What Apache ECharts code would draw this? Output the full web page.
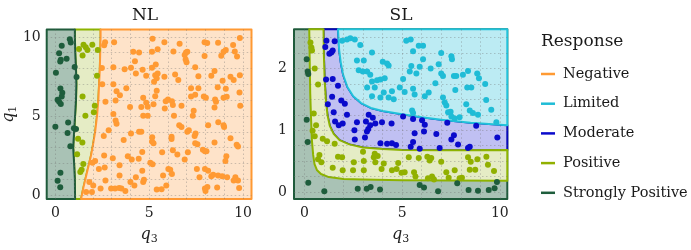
<!DOCTYPE html>
<html><head><meta charset="utf-8">
<script src="https://cdn.jsdelivr.net/npm/echarts@6/dist/echarts.min.js"></script>
<style>html,body{margin:0;padding:0;background:#fff}#c{width:691px;height:250px}</style>
</head><body><div id="c"></div>
<script>
// ---------- categories ----------
const classes = ['Negative', 'Limited', 'Moderate', 'Positive', 'Strongly Positive'];
const panelTitles = ['NL', 'SL'];
const legendTitle = 'Response';
// ---------- tick labels ----------
const xTickLabels = [0, 5, 10];
const nlYTickLabels = [0, 5, 10];
const slYTickLabels = [0, 1, 2];
// ---------- axis extents ----------
const nlXRange = [-0.46, 10.45];
const nlYRange = [-0.25, 10.47];
const slXRange = [-0.53, 10.38];
const slYRange = [-0.115, 2.635];

// ---------- NL points [q3, q1] ----------
const nlStrong = [[0.77,9.85],[0.82,9.65],[0.34,9.45],[0.20,8.97],[0.29,8.56],[0.26,8.44],[0.60,8.62],[0.03,7.74],[1.03,8.10],[1.13,7.47],[0.27,6.74],[0.37,6.47],[0.34,6.23],[0.12,6.02],[0.20,5.90],[0.29,5.76],[0.00,4.32],[0.68,4.59],[0.65,3.92],[0.99,4.22],[1.10,4.18],[0.80,3.09],[0.27,1.41],[0.12,0.90],[0.26,0.49]];
const nlPositive = [[1.26,9.24],[1.50,9.50],[1.62,9.34],[1.71,9.18],[1.97,9.50],[2.26,9.18],[1.45,8.83],[2.22,7.54],[1.45,6.23],[2.10,5.64],[2.05,5.24],[1.60,5.02],[1.21,3.56],[1.44,3.32],[1.16,2.58],[1.49,1.97],[1.40,1.60],[1.33,1.46]];
const nlNegative = [
 [2.60,9.47],[2.65,9.67],[3.13,9.67],[4.15,9.06],[4.46,9.02],[5.18,9.88],[5.15,9.06],[5.45,9.22],[5.81,9.67],[6.29,9.08],[6.62,9.57],[6.96,9.02],[6.89,8.85],[7.03,9.06],[7.95,9.67],[8.09,9.61],[8.67,9.63],[9.47,9.49],[9.83,9.94],[7.95,8.79],[8.84,8.81],[9.08,9.18],[8.96,9.06],[9.56,9.08],[9.68,8.77],
 [2.48,8.03],[3.09,8.09],[3.69,7.95],[4.03,8.05],[4.24,8.46],[4.65,7.93],[4.84,7.54],[5.15,8.05],[5.35,8.26],[5.32,7.58],[5.40,7.38],[5.45,7.68],[5.26,7.17],[5.81,7.48],[6.38,7.62],[6.55,7.27],[6.99,8.40],[6.94,8.57],[7.45,8.09],[7.62,7.52],[8.31,7.54],[8.48,7.85],[8.91,7.23],[9.33,7.48],[9.50,7.27],[9.83,7.58],[4.29,7.68],[2.50,7.01],
 [3.09,7.01],[3.26,6.56],[3.78,6.76],[3.44,6.31],[2.67,5.90],[3.21,5.98],[3.98,5.57],[4.58,5.57],[4.68,6.15],[4.84,5.84],[4.92,5.59],[5.32,6.25],[5.40,6.60],[5.23,5.74],[5.88,5.94],[6.00,6.05],[6.21,5.94],[6.26,5.70],[6.32,5.02],[5.83,5.47],[6.72,5.64],[7.23,6.23],[7.45,6.35],[7.23,6.76],[7.62,6.76],[7.37,5.33],[7.32,5.02],[7.91,6.23],[8.02,6.15],[8.56,5.90],[8.48,5.53],[8.51,6.05],[9.08,6.72],[9.13,6.21],[9.81,6.48],[9.85,5.64],[8.96,6.15],[8.65,6.82],[3.09,5.12],[4.68,5.02],[4.92,5.02],
 [2.58,3.73],[2.84,4.10],[3.21,4.71],[3.26,4.51],[3.64,3.48],[4.03,3.89],[4.46,4.00],[4.58,4.00],[5.16,3.65],[5.15,3.38],[5.23,3.28],[6.19,3.69],[6.19,3.55],[6.26,2.83],[6.60,4.41],[6.72,4.30],[7.03,4.00],[7.11,4.10],[7.42,3.73],[7.47,3.89],[7.57,3.22],[7.86,2.87],[7.97,2.77],[8.05,2.77],[8.14,4.41],[8.68,4.61],[8.99,4.30],[8.96,4.41],[9.33,3.59],[9.66,3.18],[9.73,3.07],[7.45,3.28],[8.48,3.32],
 [1.98,2.05],[2.12,2.15],[2.32,1.64],[2.60,2.50],[2.63,1.74],[3.06,2.32],[3.42,1.89],[3.42,1.23],[3.86,2.46],[4.07,2.25],[4.44,2.30],[4.63,2.73],[4.63,1.54],[5.06,2.05],[5.18,1.95],[5.69,2.70],[5.74,1.23],[6.02,1.64],[6.12,1.60],[6.21,1.33],[6.50,2.56],[6.89,2.25],[7.06,2.70],[7.54,1.64],[7.68,1.13],[7.97,1.64],[8.14,1.54],[8.31,1.19],[8.41,1.29],[8.67,1.23],[8.89,1.19],[9.11,2.46],[9.06,2.15],[9.15,1.13],[9.59,1.13],[9.73,0.92],
 [1.95,0.20],[2.02,0.61],[1.64,0.20],[1.81,0.82],[2.41,0.41],[2.97,0.41],[3.18,0.41],[3.40,0.45],[3.52,0.41],[3.73,0.25],[4.00,0.82],[4.21,0.61],[4.68,0.82],[4.72,0.96],[5.40,0.35],[5.66,0.37],[5.91,0.61],[7.97,0.41],[8.00,0.25],[8.10,0.51],[8.62,0.47],[9.50,0.92],[9.79,0.45],[4.29,1.13],[2.67,0.92]
];

// ---------- SL points [q3, q1] ----------
const slStrong = [[0.12,2.15],[0.17,1.95],[0.20,1.91],[0.12,1.17],[0.17,0.81],[0.20,0.15],[1.02,0.01],[2.73,0.05],[3.19,0.05],[3.39,0.08],[3.87,0.04],[5.90,0.11],[6.12,0.07],[6.84,0.01],[7.82,0.14],[8.40,0.03],[8.88,0.02],[9.43,0.03],[9.73,0.06],[9.85,0.16]];
const slPositive = [[0.31,2.42],[0.36,2.34],[0.39,2.29],[0.53,2.00],[0.70,1.74],[0.48,1.27],[0.60,1.08],[0.42,0.99],[0.53,0.90],[0.94,0.86],[1.16,0.82],[1.55,0.78],[0.77,0.60],[0.70,0.53],[0.87,0.48],[1.45,0.39],[1.72,0.57],[1.93,0.56],[1.96,0.35],[2.53,0.48],[2.49,0.35],[3.04,0.50],[3.04,0.35],[3.00,0.65],[3.55,0.56],[3.60,0.62],[3.75,0.58],[4.06,0.46],[3.63,0.48],[4.48,0.35],[3.95,0.37],[4.80,0.47],[4.72,0.37],[4.97,0.31],
 [5.34,0.56],[5.85,0.55],[6.29,0.57],[6.41,0.51],[6.49,0.55],[7.00,0.49],[5.13,0.32],[5.61,0.32],[5.68,0.25],[6.32,0.22],[6.53,0.25],[6.63,0.20],[7.26,0.32],[7.38,0.23],[7.69,0.35],[7.94,0.22],[8.06,0.23],[8.37,0.56],[8.51,0.49],[8.85,0.53],[9.31,0.57],[9.39,0.44],[9.70,0.34],[8.46,0.36],[8.74,0.36]];
const slModerate = [[1.13,2.45],[1.55,2.44],[1.07,2.35],[1.38,2.26],[1.45,2.29],[1.28,2.24],[1.11,1.82],[1.45,1.83],[1.42,1.54],[2.07,1.43],[1.72,1.72],[1.20,1.42],[1.89,1.48],[1.50,1.29],[2.18,1.25],[1.76,1.08],[1.96,1.11],[2.56,1.00],[2.69,1.13],[3.15,1.14],[3.29,1.25],[3.37,1.08],[3.63,1.11],[3.97,1.13],[3.50,1.20],[3.20,0.98],[2.58,0.85],[3.89,0.79],[4.23,0.78],[4.48,0.79],[4.69,0.76],[3.27,1.02],[3.10,0.88],[4.46,1.11],[1.57,1.14],
 [5.05,1.22],[5.56,1.18],[6.02,1.16],[6.16,1.09],[6.12,0.98],[5.64,0.95],[5.56,0.81],[5.44,0.73],[5.90,0.70],[6.75,0.94],[6.92,0.71],[7.31,1.12],[7.52,0.85],[7.65,0.92],[7.86,0.77],[8.37,0.71],[8.46,0.73],[8.79,1.07],[9.87,0.88]];
const slLimited = [[1.93,2.45],[2.18,2.47],[2.35,2.49],[2.58,2.47],[2.86,2.38],[3.46,2.26],[2.69,2.13],[3.04,2.13],[2.78,1.97],[2.99,1.95],[3.21,1.95],[3.37,1.90],[3.46,1.79],[3.72,1.81],[3.89,1.82],[4.11,1.84],[4.01,2.11],[4.23,2.08],[4.31,2.05],[3.60,1.69],[3.21,1.69],[4.06,1.61],[4.48,1.63],[3.89,1.53],[3.46,1.55],[4.31,1.53],[4.57,1.50],
 [5.21,2.45],[5.44,2.47],[5.85,2.37],[6.07,2.37],[5.56,2.28],[7.00,2.25],[7.52,2.20],[7.55,2.15],[6.07,2.15],[5.47,2.04],[5.90,2.03],[5.39,1.95],[5.73,1.92],[6.46,2.00],[6.87,2.07],[7.00,1.92],[7.09,1.88],[7.65,1.88],[7.77,1.88],[8.11,1.90],[8.37,1.96],[8.84,1.92],[8.93,1.84],[9.25,1.75],[6.70,1.76],[5.05,1.83],[4.88,1.69],[5.13,1.62],[5.56,1.67],[5.64,1.58],[6.16,1.55],[6.36,1.61],[7.72,1.65],[8.33,1.69],[8.54,1.69],[7.09,1.53],[7.18,1.45],[7.26,1.40],[7.35,1.29],[7.48,1.30],[7.52,1.22],[7.69,1.19],[7.94,1.21],[8.28,1.42],[8.46,1.32],[8.62,1.28],[8.88,1.25],[9.30,1.49],[9.56,1.33],[9.82,1.13],[5.51,1.32],[5.56,1.28]];

// ---------- region boundaries ----------
// NL: boundaries given as q3 as a function of q1
const nlStrongEdgeY = [-0.25, 1, 2, 3, 4, 5, 6, 7, 8, 9, 10, 10.47];
const nlStrongEdgeX = [1.05, 1.04, 1.00, 0.95, 1.00, 1.05, 1.10, 1.12, 1.10, 1.06, 1.04, 1.04];
const nlNegEdgeY = [-0.25, 0.5, 1, 1.5, 2, 2.5, 3, 4, 5, 6, 7, 8, 9, 10, 10.47];
const nlNegEdgeX = [1.37, 1.50, 1.60, 1.70, 1.80, 1.90, 1.98, 2.12, 2.22, 2.29, 2.33, 2.37, 2.39, 2.41, 2.41];
// SL: boundaries as (q3, q1) curves from top-left to right
const slPosEdgeX = [0.25, 0.27, 0.30, 0.34, 0.39, 0.45, 0.52, 0.65, 0.85, 1.25, 2, 3, 5, 7.5, 10.38];
const slPosEdgeY = [2.635, 2.2, 1.6, 1.2, 0.82, 0.6, 0.45, 0.35, 0.29, 0.24, 0.21, 0.2, 0.19, 0.185, 0.18];
const slModEdgeX = [0.98, 1.00, 1.04, 1.10, 1.18, 1.30, 1.50, 1.80, 2.30, 3, 4, 5, 7, 10.38];
const slModEdgeY = [2.635, 2.2, 1.8, 1.5, 1.25, 1.07, 0.94, 0.84, 0.77, 0.72, 0.695, 0.68, 0.675, 0.68];
const slLimEdgeX = [1.72, 1.78, 1.86, 1.98, 2.2, 2.5, 2.9, 3.4, 4, 5, 6, 7, 8.5, 10.38];
const slLimEdgeY = [2.635, 2.3, 2.1, 1.9, 1.7, 1.55, 1.44, 1.36, 1.31, 1.26, 1.21, 1.17, 1.12, 1.08];

// ---------- styles ----------
const pointColor = {'Negative':'#ff9a33','Limited':'#1fbcd6','Moderate':'#0a0acb','Positive':'#91b000','Strongly Positive':'#1e5d3c'};
const fillColor  = {'Negative':'#fee3c9','Limited':'#bcebf3','Moderate':'#c0c0f2','Positive':'#e5ecc5','Strongly Positive':'#a9c2b5'};
const edgeColor  = {'Negative':'#ff9933','Limited':'#22c2da','Moderate':'#0808b8','Positive':'#8db300','Strongly Positive':'#1f5b3b'};
const SERIF = 'DejaVu Serif';

const pairs = (xs, ys) => xs.map((x, i) => [x, ys[i]]);
const rev = a => a.slice().reverse();

// NL polygons
const nlStrongEdge = pairs(nlStrongEdgeX, nlStrongEdgeY);
const nlNegEdge = pairs(nlNegEdgeX, nlNegEdgeY);
const nlPolys = {
  'Strongly Positive': [[nlXRange[0], nlYRange[0]], ...nlStrongEdge, [nlXRange[0], nlYRange[1]]],
  'Positive': [...nlStrongEdge, ...rev(nlNegEdge)],
  'Negative': [...nlNegEdge, [nlXRange[1], nlYRange[1]], [nlXRange[1], nlYRange[0]]]
};
// SL polygons
const slPosEdge = pairs(slPosEdgeX, slPosEdgeY);
const slModEdge = pairs(slModEdgeX, slModEdgeY);
const slLimEdge = pairs(slLimEdgeX, slLimEdgeY);
const slPolys = {
  'Strongly Positive': [[slXRange[0], slYRange[0]], [slXRange[1], slYRange[0]], [slXRange[1], slYRange[1]], [slXRange[0], slYRange[1]]],
  'Moderate': [...slModEdge, ...rev(slLimEdge)],
  'Limited': [...slLimEdge, [slXRange[1], slYRange[1]]],
  'Positive': [...slPosEdge, ...rev(slModEdge)]
};

function region(cls, poly, gi, z) {
  return {
    type: 'custom', name: 'region-' + gi + '-' + cls, xAxisIndex: gi, yAxisIndex: gi,
    z: z, silent: true, clip: false,
    data: [poly[0]],
    renderItem: (params, api) => ({
      type: 'polygon',
      shape: { points: poly.map(p => api.coord(p)) },
      style: { fill: fillColor[cls], stroke: edgeColor[cls], lineWidth: 2, lineJoin: 'round' }
    })
  };
}
function points(cls, data, gi) {
  return { type: 'scatter', name: cls, xAxisIndex: gi, yAxisIndex: gi, data: data, z: 10,
    symbolSize: 6, itemStyle: { color: pointColor[cls], opacity: 1 }, emphasis: { disabled: true } };
}
const near = (v, list) => list.some(t => Math.abs(v - t) < 1e-6);
const splitLine = { show: true, showMinLine: false, showMaxLine: false, lineStyle: { color: 'rgba(110,110,110,0.35)', type: [1.5, 2.5], width: 1 } };
const labelStyle = { fontFamily: SERIF, fontSize: 14, color: '#222' };
const nameStyle = { fontFamily: SERIF, fontSize: 16, fontStyle: 'italic', color: '#222',
  rich: { s: { fontFamily: SERIF, fontSize: 11, fontStyle: 'normal', color: '#222', padding: [9, 0, 0, 0] } } };

function xAxis(gi, range) {
  return { type: 'value', gridIndex: gi, min: range[0], max: range[1], minInterval: 1, maxInterval: 1, splitNumber: 11, z: 6,
    axisLine: { show: false }, axisTick: { show: false }, splitLine: splitLine,
    axisLabel: { ...labelStyle, margin: 7, showMinLabel: true, showMaxLabel: true, formatter: v => near(v, xTickLabels) ? String(Math.round(v)) : '' },
    name: 'q{s|3}', nameLocation: 'middle', nameGap: 26, nameTextStyle: nameStyle };
}

const option = {
  animation: false,
  backgroundColor: '#fff',
  grid: [
    { left: 39, top: 29.5, width: 212.5, height: 174.5 },
    { left: 294, top: 29.3, width: 213.3, height: 174.7 }
  ],
  xAxis: [xAxis(0, nlXRange), xAxis(1, slXRange)],
  yAxis: [
    { type: 'value', gridIndex: 0, min: nlYRange[0], max: nlYRange[1], minInterval: 1, maxInterval: 1, splitNumber: 11, z: 6,
      axisLine: { show: false }, axisTick: { show: false }, splitLine: splitLine,
      axisLabel: { ...labelStyle, margin: 6, formatter: v => near(v, nlYTickLabels) ? String(Math.round(v)) : '' },
      name: 'q{s|1}', nameLocation: 'middle', nameGap: 26, nameRotate: 90, nameTextStyle: nameStyle },
    { type: 'value', gridIndex: 1, min: slYRange[0], max: slYRange[1], minInterval: 0.25, maxInterval: 0.25, splitNumber: 11, z: 6,
      axisLine: { show: false }, axisTick: { show: false }, splitLine: splitLine,
      axisLabel: { ...labelStyle, margin: 7, formatter: v => near(v, slYTickLabels) ? String(Math.round(v)) : '' } }
  ],
  legend: {
    orient: 'vertical', left: 536, top: 59, data: classes, icon: 'rect', itemWidth: 14, itemHeight: 2.5,
    itemGap: 9.7, selectedMode: false,
    textStyle: { fontFamily: SERIF, fontSize: 14.5, color: '#1a1a1a', lineHeight: 20, padding: [0, 0, 0, 3] }
  },
  graphic: [
    { type: 'text', x: 145, y: 7, style: { text: panelTitles[0], font: '17px "' + SERIF + '"', fill: '#1a1a1a', textAlign: 'center', textVerticalAlign: 'top' } },
    { type: 'text', x: 401, y: 7, style: { text: panelTitles[1], font: '17px "' + SERIF + '"', fill: '#1a1a1a', textAlign: 'center', textVerticalAlign: 'top' } },
    { type: 'text', x: 541, y: 33, style: { text: legendTitle, font: '17px "' + SERIF + '"', fill: '#1a1a1a', textAlign: 'left', textVerticalAlign: 'top' } }
  ],
  series: [
    region('Positive', nlPolys['Positive'], 0, 1),
    region('Strongly Positive', nlPolys['Strongly Positive'], 0, 2),
    region('Negative', nlPolys['Negative'], 0, 3),
    region('Strongly Positive', slPolys['Strongly Positive'], 1, 1),
    region('Moderate', slPolys['Moderate'], 1, 2),
    region('Limited', slPolys['Limited'], 1, 3),
    region('Positive', slPolys['Positive'], 1, 4),
    points('Negative', nlNegative, 0),
    points('Positive', nlPositive, 0),
    points('Strongly Positive', nlStrong, 0),
    points('Limited', slLimited, 1),
    points('Moderate', slModerate, 1),
    points('Positive', slPositive, 1),
    points('Strongly Positive', slStrong, 1)
  ]
};
const chart = echarts.init(document.getElementById('c'), null, { renderer: 'canvas' });
chart.setOption(option);
</script>
</body></html>
